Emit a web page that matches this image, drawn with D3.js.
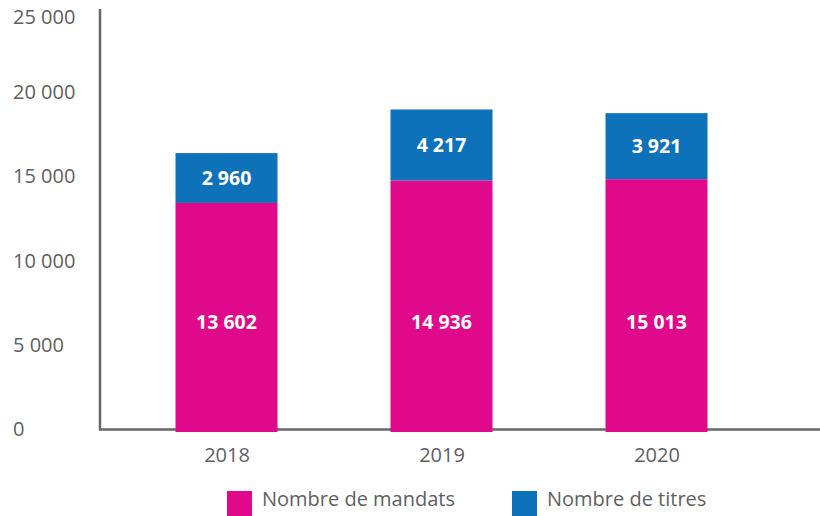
<!DOCTYPE html>
<html>
<head>
<meta charset="utf-8">
<script src="https://cdnjs.cloudflare.com/ajax/libs/d3/7.8.5/d3.min.js"></script>
<style>
  body { margin: 0; background: #fff; }
  svg { font-family: "Open Sans", sans-serif; }
</style>
</head>
<body>
<script>
var years = ["2018", "2019", "2020"];
var mandats = [13602, 14936, 15013];
var titres = [2960, 4217, 3921];
var yTicks = [0, 5000, 10000, 15000, 20000, 25000];
var seriesNames = ["Nombre de mandats", "Nombre de titres"];
var colors = ["#e0098c", "#0e72ba"];

var width = 820, height = 516;
var fr = d3.formatLocale({decimal: ",", thousands: "\u00a0", grouping: [3], currency: ["", " €"]});
var fmt = fr.format(",");

var svg = d3.select("body").append("svg")
  .attr("width", width)
  .attr("height", height);

var x = d3.scalePoint()
  .domain(years)
  .range([119, 764])
  .padding(0.5);
var y = d3.scaleLinear()
  .domain([0, 25000])
  .range([432, 11]);
var barW = 102;

// y axis labels (top one pushed down so it isn't clipped)
var yAxis = d3.axisLeft(y).tickValues(yTicks).tickSize(0).tickFormat(fmt);
svg.append("g")
  .attr("transform", "translate(100,0)")
  .call(yAxis)
  .call(function(a) {
    a.select(".domain").remove();
    a.selectAll(".tick")
      .attr("transform", function(d) { return "translate(0," + Math.max(y(d) - 3, 17) + ")"; });
    a.selectAll(".tick text")
      .attr("x", -87)
      .attr("dy", "0.35em")
      .attr("text-anchor", "start")
      .attr("fill", "#5f5f5f")
      .attr("font-size", 20)
      .style("font-family", "Open Sans, sans-serif");
  });

// x axis labels
var xAxis = d3.axisBottom(x).tickSize(0);
svg.append("g")
  .attr("transform", "translate(0,430)")
  .call(xAxis)
  .call(function(a) {
    a.select(".domain").remove();
    a.selectAll(".tick text")
      .attr("dy", 0)
      .attr("y", 32)
      .attr("fill", "#5f5f5f")
      .attr("font-size", 20)
      .style("font-family", "Open Sans, sans-serif");
  });

// axis lines
svg.append("line")
  .attr("x1", 100).attr("x2", 100)
  .attr("y1", 9).attr("y2", 430)
  .attr("stroke", "#666").attr("stroke-width", 2.5);
svg.append("line")
  .attr("x1", 99).attr("x2", 820)
  .attr("y1", 429.5).attr("y2", 429.5)
  .attr("stroke", "#666").attr("stroke-width", 2.5);

// bars
var g = svg.append("g");
years.forEach(function(yr, i) {
  var cx = x(yr);
  var total = mandats[i] + titres[i];
  g.append("rect")
    .attr("x", cx - barW / 2)
    .attr("y", y(mandats[i]))
    .attr("width", barW)
    .attr("height", y(0) - y(mandats[i]))
    .attr("fill", colors[0]);
  g.append("rect")
    .attr("x", cx - barW / 2)
    .attr("y", y(total))
    .attr("width", barW)
    .attr("height", y(mandats[i]) - y(total))
    .attr("fill", colors[1]);
  g.append("text")
    .attr("x", cx)
    .attr("y", y(6500))
    .attr("dy", "0.35em")
    .attr("text-anchor", "middle")
    .attr("fill", "#fff")
    .attr("font-weight", "bold")
    .attr("font-size", 19.5)
    .text(fmt(mandats[i]));
  g.append("text")
    .attr("x", cx)
    .attr("y", (y(total) + y(mandats[i])) / 2)
    .attr("dy", "0.35em")
    .attr("text-anchor", "middle")
    .attr("fill", "#fff")
    .attr("font-weight", "bold")
    .attr("font-size", 19.5)
    .text(fmt(titres[i]));
});

// legend
var legX = [227, 512];
seriesNames.forEach(function(n, i) {
  svg.append("rect")
    .attr("x", legX[i]).attr("y", 491)
    .attr("width", 25).attr("height", 25)
    .attr("fill", colors[i]);
  svg.append("text")
    .attr("x", legX[i] + 35).attr("y", 506)
    .attr("fill", "#5f5f5f")
    .attr("font-size", 20)
    .text(n);
});
</script>
</body>
</html>
